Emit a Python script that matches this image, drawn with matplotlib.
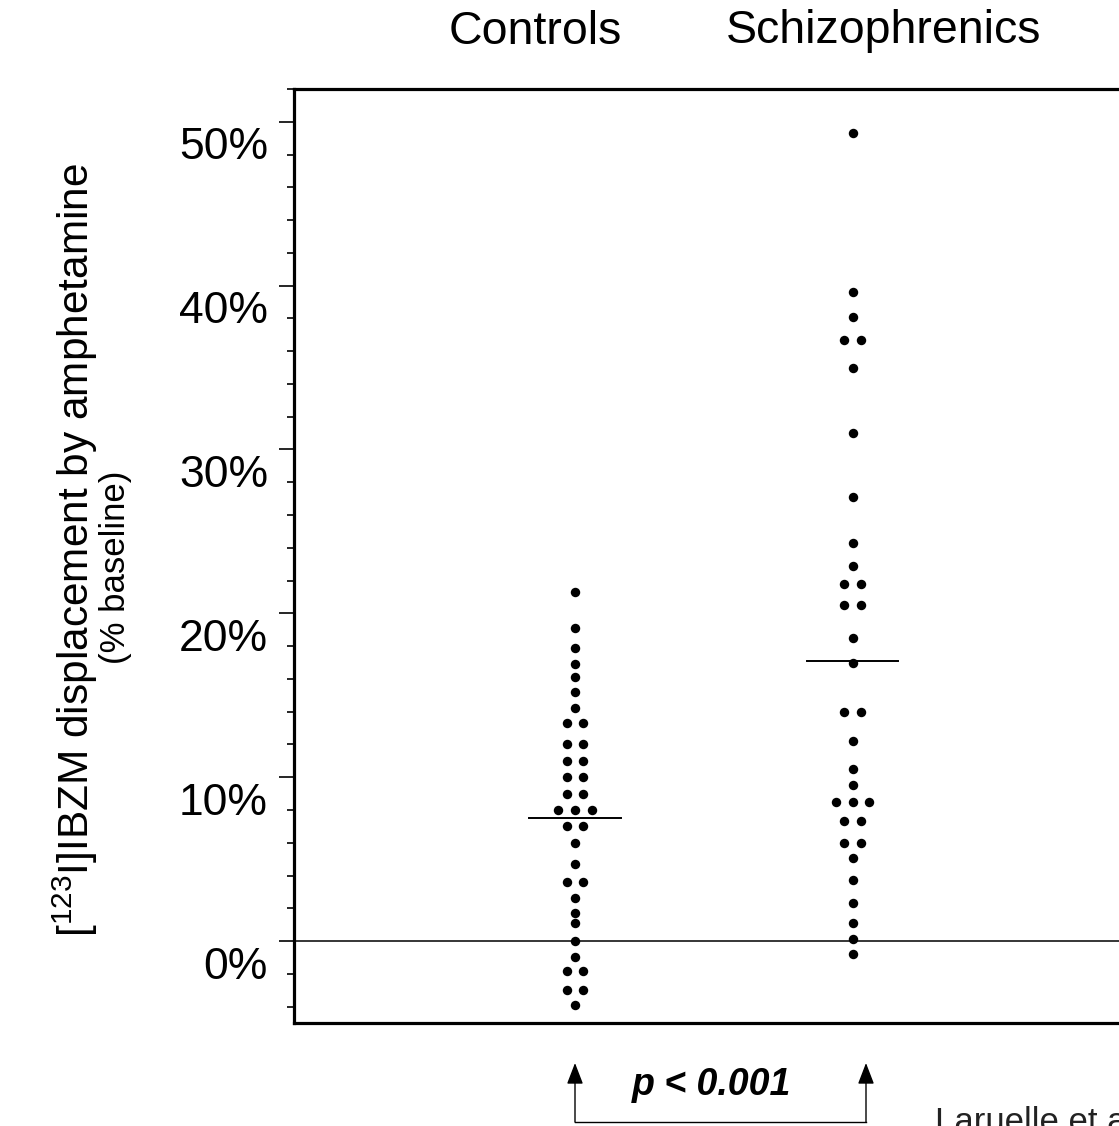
import matplotlib
matplotlib.use('Agg')
import matplotlib.pyplot as plt
import matplotlib.transforms as mtransforms
from matplotlib.ticker import MultipleLocator, FixedLocator
import numpy as np

plt.rcParams['font.family'] = ['Liberation Sans', 'DejaVu Sans']
plt.rcParams['mathtext.fontset'] = 'custom'
plt.rcParams['mathtext.rm'] = 'Liberation Sans'
plt.rcParams['mathtext.it'] = 'Liberation Sans:italic'
plt.rcParams['mathtext.bf'] = 'Liberation Sans:bold'

# ---------------- data ----------------
groups = ['Controls', 'Schizophrenics']
controls = [21.3, 19.1, 17.9, 16.9, 16.1, 15.2, 14.2,
            13.3, 13.3, 12.0, 12.0, 11.0, 11.0, 10.0, 10.0, 9.0, 9.0,
            8.0, 8.0, 8.0, 7.0, 7.0, 6.0, 4.7, 3.6, 3.6, 2.6, 1.7, 1.1,
            0.0, -1.0, -1.8, -1.8, -3.0, -3.0, -3.9]
schizophrenics = [49.3, 39.6, 38.1, 36.7, 36.7, 35.0, 31.0, 27.1, 24.3,
                  22.9, 21.8, 21.8, 20.5, 20.5, 18.5, 17.0, 14.0, 14.0,
                  12.2, 10.5, 9.5, 8.5, 8.5, 8.5, 7.3, 7.3, 6.0, 6.0,
                  5.1, 3.7, 2.3, 1.1, 0.1, -0.8]
group_means = [7.5, 17.1]
ytick_values = [0, 10, 20, 30, 40, 50]
ytick_labels = ['0%', '10%', '20%', '30%', '40%', '50%']
p_text = 'p < 0.001'
ylabel_line1 = r'[$^{123}$I]IBZM displacement by amphetamine'
ylabel_line2 = '(% baseline)'
credit = 'Laruelle et al.'

W, H = 1119, 1126
fig = plt.figure(figsize=(W / 100, H / 100), dpi=100)

def fx(p):
    return p / W

def fy(p):
    return 1 - p / H

ax = fig.add_axes([fx(294), fy(1023), fx(1135) - fx(294), fy(89) - fy(1023)])
ax.set_xlim(-0.0126, 3.018)
ax.set_ylim(-5, 52)

# dot strips
step = 0.061
for xpos, vals in zip([1, 2], [controls, schizophrenics]):
    vals = np.asarray(vals)
    xs, ys = [], []
    for v in np.unique(vals):
        n = int(np.sum(vals == v))
        for i in range(n):
            xs.append(xpos + (i - (n - 1) / 2) * step)
            ys.append(v)
    ax.plot(xs, ys, 'o', color='black', markersize=6.8, markeredgewidth=0,
            clip_on=False, zorder=3)

# mean lines
for xpos, m in zip([1, 2], group_means):
    ax.plot([xpos - 0.165, xpos + 0.165], [m, m], color='black', lw=1.4, zorder=2)

ax.axhline(0, color='black', lw=1.1, zorder=1)

# spines
for s in ax.spines.values():
    s.set_linewidth(2.3)

ax.set_xticks([])
ax.yaxis.set_major_locator(FixedLocator(ytick_values))
ax.yaxis.set_minor_locator(MultipleLocator(2))
ax.tick_params(axis='y', which='major', length=10.8, width=1.2, direction='out',
               labelleft=False)
ax.tick_params(axis='y', which='minor', length=5.3, width=1.2, direction='out')

lab_trans = ax.get_yaxis_transform() + mtransforms.ScaledTranslation(
    -0.26, -0.26, fig.dpi_scale_trans)
for v, lab in zip(ytick_values, ytick_labels):
    ax.text(0, v, lab, transform=lab_trans, ha='right', va='center',
            fontsize=32)

# y label
fig.text(fx(75), fy(550), ylabel_line1, rotation=90, ha='center', va='center',
         fontsize=30.5)
fig.text(fx(115), fy(567), ylabel_line2, rotation=90, ha='center', va='center',
         fontsize=25)

# group titles
fig.text(fx(535), fy(44), groups[0], ha='center', va='baseline', fontsize=33.5)
fig.text(fx(884), fy(43), groups[1], ha='center', va='baseline', fontsize=33.5)

# significance bracket
fig.text(fx(712), fy(1085), p_text, ha='center', va='center', fontsize=27,
         fontweight='bold', style='italic')
bx = [575, 866]
fig.add_artist(plt.Line2D([fx(bx[0]), fx(bx[1])], [fy(1122), fy(1122)],
                          color='black', lw=1.0))
for x in bx:
    fig.add_artist(matplotlib.patches.FancyArrowPatch(
        (fx(x), fy(1122)), (fx(x), fy(1063)), transform=fig.transFigure,
        arrowstyle='-|>,head_length=13,head_width=5', color='black', lw=1.0,
        mutation_scale=1, shrinkA=0, shrinkB=0))

fig.text(fx(935), fy(1106), credit, ha='left', va='top', fontsize=25,
         color='#222222')

fig.savefig('out.png', dpi=100)
